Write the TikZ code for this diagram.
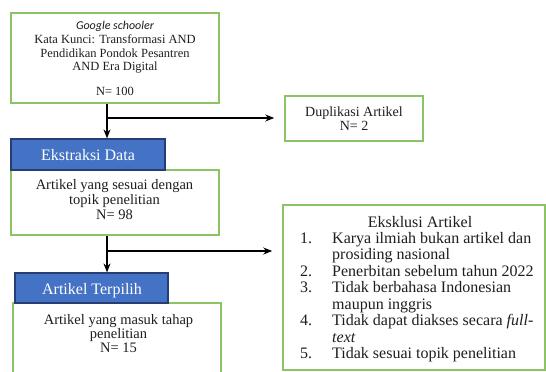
\documentclass[tikz,border=0pt]{standalone}
\usepackage{fontspec}
\setmainfont{Liberation Serif}
\newfontfamily\calibrifont{Carlito}
\usetikzlibrary{arrows.meta}
\definecolor{gline}{RGB}{140,196,100}
\definecolor{bfill}{RGB}{68,114,196}
\definecolor{bline}{RGB}{40,62,115}
\definecolor{txt}{RGB}{30,30,30}
\begin{document}
\begin{tikzpicture}[x=1pt,y=-1pt,
  gbox/.style={draw=gline,line width=1.5pt,fill=white,inner sep=0pt},
  bbox/.style={draw=bline,line width=1.2pt,fill=bfill,inner sep=0pt},
  t/.style={anchor=base,inner sep=0pt,text=txt},
  tw/.style={anchor=base,inner sep=0pt,text=white,font=\fontsize{16}{17}\selectfont},
  tl/.style={anchor=base west,inner sep=0pt,text=txt,font=\fontsize{16}{17}\selectfont},
  arr/.style={line width=1.3pt,-{Stealth[length=9pt,width=7pt]}},
  ln/.style={line width=1.3pt}]
\useasboundingbox (0,0) rectangle (546,372);
\clip (0,0) rectangle (546,372);
% boxes
\node[gbox,minimum width=208pt,minimum height=90pt] (b1) at (115,58) {};
\node[gbox,minimum width=138pt,minimum height=45pt] (dup) at (354,118.5) {};
\node[gbox,minimum width=208pt,minimum height=65pt] (g2) at (115,202.5) {};
\node[bbox,minimum width=154pt,minimum height=31pt] (ext) at (88,154.5) {};
\node[gbox,minimum width=208pt,minimum height=80pt] (g3) at (117,343) {};
\node[bbox,minimum width=153pt,minimum height=30pt] (sel) at (91.5,288) {};
\node[gbox,minimum width=262pt,minimum height=165pt] (exk) at (414,287.5) {};
% box 1 text
\node[t,font=\calibrifont\itshape\fontsize{12}{13}\selectfont] (b1a) at (115,29) {Google schooler};
\node[t,font=\fontsize{12.5}{13.5}\selectfont] (b1b) at (115,43) {Kata Kunci: Transformasi AND};
\node[t,font=\fontsize{12.5}{13.5}\selectfont] (b1c) at (115,57) {Pendidikan Pondok Pesantren};
\node[t,font=\fontsize{12.5}{13.5}\selectfont] (b1d) at (115,70.5) {AND Era Digital};
\node[t,font=\fontsize{12.5}{13.5}\selectfont] (b1e) at (115,95) {N= 100};
% duplikasi
\node[t,font=\fontsize{14}{15}\selectfont] (dupa) at (354,116) {Duplikasi Artikel};
\node[t,font=\fontsize{14}{15}\selectfont] (dupb) at (354,130) {N= 2};
% ekstraksi
\node[tw] (exta) at (88,160) {Ekstraksi Data};
\node[t,font=\fontsize{14.5}{15}\selectfont] (g2a) at (114.5,189) {Artikel yang sesuai dengan};
\node[t,font=\fontsize{14.5}{15}\selectfont] (g2b) at (114.5,204) {topik penelitian};
\node[t,font=\fontsize{14.5}{15}\selectfont] (g2c) at (114.5,219) {N= 98};
% terpilih
\node[tw] (sela) at (92,294.5) {Artikel Terpilih};
\node[t,font=\fontsize{14.5}{15}\selectfont] (g3a) at (118.5,324) {Artikel yang masuk tahap};
\node[t,font=\fontsize{14.5}{15}\selectfont] (g3b) at (118.5,338) {penelitian};
\node[t,font=\fontsize{14.5}{15}\selectfont] (g3c) at (118.5,352.5) {N= 15};
% eksklusi
\node[t,font=\fontsize{16}{17}\selectfont] (ex0) at (420,227) {Eksklusi Artikel};
\node[tl] (n1) at (300,243) {1.};
\node[tl] (l1) at (332,243) {Karya ilmiah bukan artikel dan};
\node[tl] (l1b) at (332,259.5) {prosiding nasional};
\node[tl] (n2) at (300,276) {2.};
\node[tl] (l2) at (332,276) {Penerbitan sebelum tahun 2022};
\node[tl] (n3) at (300,292.5) {3.};
\node[tl] (l3) at (332,292.5) {Tidak berbahasa Indonesian};
\node[tl] (l3b) at (332,309) {maupun inggris};
\node[tl] (n4) at (300,325.5) {4.};
\node[tl] (l4) at (332,325.5) {Tidak dapat diakses secara \textit{full-}};
\node[tl] (l4b) at (332,342) {\textit{text}};
\node[tl] (n5) at (300,358.5) {5.};
\node[tl] (l5) at (332,358.5) {Tidak sesuai topik penelitian};
% connectors
\coordinate (j1) at (107,118);
\coordinate (j2) at (107,251);
\draw[arr] (b1.south -| j1) -- (ext.north -| j1);
\draw[arr] (j1) -- ([xshift=-10pt]dup.west |- j1);
\draw[arr] (g2.south -| j2) -- (sel.north -| j2);
\draw[arr] (j2) -- ([xshift=-10pt]exk.west |- j2);
\end{tikzpicture}
\end{document}
